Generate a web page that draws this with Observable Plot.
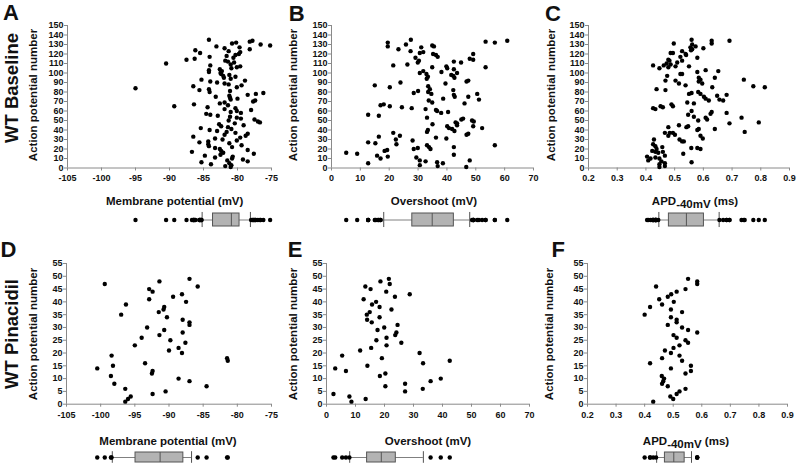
<!DOCTYPE html>
<html><head><meta charset="utf-8">
<script src="https://cdn.jsdelivr.net/npm/d3@7"></script>
<script src="https://cdn.jsdelivr.net/npm/@observablehq/plot@0.6"></script>
<style>
body{margin:0;background:#fff;}
#c{position:relative;width:800px;height:464px;overflow:hidden;background:#fff;font-family:"Liberation Sans",Arial,sans-serif;}
#c svg{position:absolute;overflow:visible;}
.t{position:absolute;white-space:nowrap;font-weight:bold;color:#111;line-height:1;transform:translate(-50%,-50%);}
.r{transform:translate(-50%,-50%) rotate(-90deg);}
.sub{position:relative;top:3px;}
</style></head><body><div id="c"></div>
<script>
// ---------- data (values in AP-number order: index 0 = AP #1) ----------
const baselineMembrane = [-81.0,-81.8,-80.9,-83.9,-81.2,-85.3,-78.5,-81.5,-79.2,-80.8,-83.3,-80.7,-84.8,-82.5,-77.6,-82.1,-86.7,-82.4,-78.5,-82.6,
-83.3,-80.8,-84.2,-79.4,-84.3,-81.2,-85.6,-84.3,-80.1,-82.2,-83.3,-79.6,-86.5,-78.8,-81.9,-78.5,-80.3,-81.6,-83.0,-84.1,
-80.9,-85.4,-81.4,-82.4,-79.1,-82.7,-80.4,-76.7,-77.0,-81.3,-77.5,-79.5,-80.1,-81.1,-82.9,-84.0,-84.6,-79.5,-81.0,-80.1,
-78.0,-81.9,-80.3,-84.4,-89.3,-81.4,-86.4,-82.6,-81.9,-77.7,-77.4,-81.0,-80.0,-81.1,-83.2,-81.2,-78.5,-77.3,-76.2,-84.1,
-81.1,-85.6,-84.2,-95.0,-80.1,-86.5,-79.4,-81.3,-81.9,-83.0,-84.0,-78.9,-85.3,-81.0,-82.0,-80.3,-82.1,-81.2,-82.4,-82.5,
-84.2,-82.3,-84.2,-82.6,-80.9,-80.1,-79.6,-84.0,-81.0,-90.5,-80.5,-81.4,-81.8,-87.5,-86.3,-80.6,-84.1,-81.6,-80.3,-79.8,
-85.5,-79.6,-81.3,-86.2,-78.2,-81.9,-79.7,-83.1,-75.2,-76.6,-80.8,-80.2,-78.2,-77.8,-84.2];

// [AP number, overshoot mV]
const baselineOvershoot = [[16,5.1],[15,8.9],[5,12.7],[27,12.7],[56,12.7],[87,15.0],[26,15.2],[33,16.4],[55,16.4],[66,17.0],
[67,18.1],[13,15.8],[10,17.0],[18,18.4],[19,19.3],[12,19.5],[132,19.5],[128,19.5],[85,20.2],[65,20.2],
[37,21.4],[108,21.4],[30,22.3],[25,22.5],[34,23.7],[125,23.2],[90,23.9],[64,24.4],[130,25.8],[109,26.3],
[135,27.5],[123,27.4],[63,27.8],[29,28.1],[79,28.5],[116,29.1],[81,30.0],[121,30.6],[122,31.8],[111,29.9],
[113,30.3],[127,31.1],[20,28.5],[21,29.9],[11,29.4],[8,30.6],[3,30.6],[100,30.6],[102,31.8],[99,32.9],
[62,32.6],[53,33.1],[40,33.4],[38,33.1],[94,33.0],[96,33.4],[86,33.5],[83,34.1],[80,33.5],[78,34.6],
[71,33.7],[69,34.9],[24,33.1],[22,33.8],[20,34.3],[7,32.6],[46,35.0],[32,36.2],[129,34.9],[128,35.5],
[120,35.2],[119,36.2],[117,36.8],[60,36.6],[6,36.6],[2,36.8],[106,34.9],[61,36.2],[5,38.6],[101,38.1],
[73,38.7],[58,38.0],[89,39.5],[107,39.8],[59,40.4],[105,40.1],[31,39.8],[44,40.1],[42,40.7],[98,41.5],
[97,42.2],[112,42.4],[104,42.4],[95,42.6],[82,42.2],[77,42.4],[75,42.7],[41,41.8],[39,42.6],[48,43.0],
[47,43.5],[45,43.5],[22,42.4],[14,42.4],[100,43.5],[111,44.9],[51,45.0],[52,45.6],[68,46.1],[91,46.8],
[92,47.4],[35,46.8],[36,47.4],[115,47.9],[114,49.1],[120,49.1],[50,48.7],[49,49.3],[44,49.1],[8,47.9],
[1,46.7],[75,47.4],[78,50.5],[72,51.1],[42,52.2],[106,53.4],[133,53.4],[132,56.6],[134,60.9],[24,56.6]];

// [AP number, APD-40mV s]
const baselineAPD = [[134,0.691],[134,0.629],[131,0.629],[135,0.559],[130,0.561],[128,0.573],[127,0.555],[125,0.561],[124,0.557],[126,0.600],
[116,0.579],[131,0.497],[121,0.494],[121,0.486],[123,0.526],[120,0.538],[119,0.540],[117,0.520],[111,0.509],[113,0.526],
[114,0.478],[113,0.482],[110,0.472],[108,0.462],[109,0.486],[107,0.503],[107,0.550],[108,0.425],[105,0.447],[106,0.478],
[99,0.526],[99,0.520],[101,0.579],[103,0.608],[102,0.652],[92,0.503],[89,0.515],[92,0.468],[97,0.474],[87,0.538],
[95,0.584],[93,0.590],[91,0.584],[89,0.596],[95,0.640],[85,0.631],[93,0.741],[86,0.774],[85,0.814],[83,0.437],
[82,0.468],[78,0.550],[79,0.559],[80,0.582],[78,0.590],[75,0.602],[73,0.608],[69,0.544],[68,0.567],[71,0.619],
[76,0.648],[72,0.656],[71,0.669],[77,0.681],[63,0.425],[62,0.433],[65,0.451],[64,0.459],[67,0.489],[65,0.494],
[56,0.547],[60,0.559],[54,0.567],[50,0.582],[53,0.608],[51,0.613],[57,0.625],[59,0.629],[41,0.640],[58,0.681],
[47,0.691],[53,0.733],[48,0.793],[38,0.744],[43,0.478],[37,0.466],[37,0.483],[37,0.494],[34,0.478],[35,0.501],
[45,0.515],[43,0.541],[44,0.547],[30,0.517],[28,0.526],[28,0.532],[40,0.579],[41,0.584],[34,0.590],[31,0.598],
[21,0.558],[21,0.579],[20,0.590],[15,0.530],[6,0.559],[30,0.428],[25,0.425],[23,0.433],[20,0.437],[22,0.457],
[18,0.422],[17,0.433],[16,0.443],[17,0.459],[13,0.466],[12,0.404],[8,0.408],[10,0.416],[11,0.433],[10,0.447],
[7,0.454],[4,0.447],[1,0.447],[5,0.466],[2,0.466]];

const pinacidilMembrane = [-96.4,-96.0,-95.6,-92.4,-90.5,-96.4,-84.5,-98.0,-87.0,-88.6,-98.5,-92.5,-92.4,-100.5,-98.2,-93.5,-81.4,-81.5,-98.4,-88.1,
-90.0,-88.6,-95.0,-87.6,-89.8,-94.0,-91.4,-88.0,-90.7,-93.2,-87.0,-87.0,-88.0,-90.3,-97.0,-91.5,-90.8,-90.7,-96.3,-87.5,
-92.9,-89.4,-88.1,-92.4,-92.9,-85.8,-99.4,-91.4,-87.0];
const pinacidilOvershoot = [8.6,13.5,7.9,2.4,27.1,33.2,20.3,27.1,35.9,39.4,18.4,20.3,6.7,3.0,14.1,33.3,42.5,19.1,5.4,32.1,
11.6,15.4,20.7,25.8,17.2,20.7,23.7,24.1,17.6,19.9,24.5,15.6,14.0,18.3,13.9,14.9,22.4,18.3,15.7,17.1,
12.8,23.6,28.7,20.6,15.2,13.4,21.8,18.6,21.5];
const pinacidilAPD = [0.43,0.50,0.49,0.512,0.522,0.543,0.481,0.461,0.465,0.468,0.46,0.543,0.562,0.492,0.562,0.419,0.531,0.461,0.522,0.492,
0.471,0.501,0.522,0.552,0.543,0.512,0.501,0.584,0.552,0.531,0.481,0.512,0.512,0.492,0.40,0.531,0.492,0.419,0.461,0.502,
0.451,0.481,0.493,0.512,0.543,0.44,0.584,0.584,0.552];

// box statistics: [10th, 25th, median, 75th, 90th percentile]
const boxBaselineMembrane = [-85.2,-83.6,-80.9,-79.7,-78.1];
const boxBaselineOvershoot = [18.1,28.0,34.9,42.4,47.9];
const boxBaselineAPD = [0.445,0.480,0.541,0.602,0.655];
const boxPinacidilMembrane = [-98.3,-94.9,-91.3,-87.9,-86.7];
const boxPinacidilOvershoot = [8.0,14.0,18.9,23.9,33.4];
const boxPinacidilAPD = [0.442,0.471,0.502,0.540,0.564];

// ticks
const ticksMembrane = [-105,-100,-95,-90,-85,-80,-75];
const ticksOvershoot = [0,10,20,30,40,50,60,70];
const ticksAPD = [0.2,0.3,0.4,0.5,0.6,0.7,0.8,0.9];
const ticksAPBaseline = d3.range(0,151,10);
const ticksAPPinacidil = d3.range(0,56,5);

// ---------- drawing ----------
const container = document.getElementById("c");
const FONT = '"Liberation Sans", Arial, sans-serif';
const AXIS = "#8a8a8a";

function place(node, left, top) {
  node.style.left = left + "px";
  node.style.top = top + "px";
  container.appendChild(node);
}

function scatterPanel(o) {
  const L = o.x0 - 45, R = o.x1 + 11;
  const top = o.yTop - 11, bottom = o.yBase + 22;
  const svg = Plot.plot({
    width: R - L, height: bottom - top,
    marginLeft: o.x0 - L, marginRight: R - o.x1,
    marginTop: o.yTop - top, marginBottom: bottom - o.yBase,
    style: {fontFamily: FONT, fontSize: "9px", fontWeight: "bold", background: "transparent", color: "#111", overflow: "visible"},
    x: {domain: [o.xTicks[0], o.xTicks[o.xTicks.length - 1]]},
    y: {domain: [0, o.yTicks[o.yTicks.length - 1]]},
    marks: [
      Plot.ruleX([o.xTicks[0]], {stroke: AXIS}),
      Plot.ruleY([0], {stroke: AXIS}),
      Plot.axisX({ticks: o.xTicks, tickFormat: o.fmt, tickSize: 3, tickPadding: 4, stroke: AXIS, fill: "#111", label: null}),
      Plot.axisY({ticks: o.yTicks, tickFormat: d => String(d), tickSize: 3, tickPadding: 1, stroke: AXIS, fill: "#111", label: null}),
      Plot.dot(o.points, {x: o.xv, y: o.yv, r: 2.2, fill: "#000", stroke: "none"})
    ]
  });
  place(svg, L, top);
}

function boxPanel(o, stats, values, boxTop, boxBottom) {
  const L = o.x0 - 45, R = o.x1 + 11;
  const top = boxTop - 6, bottom = boxBottom + 4;
  const [q10, q25, med, q75, q90] = stats;
  const outliers = values.filter(v => v < q10 || v > q90);
  const svg = Plot.plot({
    width: R - L, height: bottom - top,
    marginLeft: o.x0 - L, marginRight: R - o.x1,
    marginTop: boxTop - top, marginBottom: bottom - boxBottom,
    style: {background: "transparent", overflow: "visible"},
    x: {domain: [o.xTicks[0], o.xTicks[o.xTicks.length - 1]], axis: null},
    y: {domain: [0, 1], axis: null},
    marks: [
      Plot.ruleY([0.5], {x1: q10, x2: q90, stroke: "#808080"}),
      Plot.ruleX([q10, q90], {y1: -0.08, y2: 1.08, stroke: "#505050"}),
      Plot.rect([stats], {x1: d => d[1], x2: d => d[3], y1: 0, y2: 1, fill: "#b3b3b3", stroke: "#555"}),
      Plot.ruleX([med], {y1: 0, y2: 1, stroke: "#555"}),
      Plot.dot(outliers, {x: d => d, y: 0.5, r: 2.2, fill: "#000", stroke: "none"})
    ]
  });
  place(svg, L, top);
}

function text(html, x, y, size, rotate) {
  const d = document.createElement("div");
  d.className = "t" + (rotate ? " r" : "");
  d.style.left = x + "px"; d.style.top = y + "px";
  d.style.fontSize = size + "px";
  d.innerHTML = html;
  container.appendChild(d);
}

const fmtInt = d => String(d);
const fmt1 = d => d.toFixed(1);
const byIndexY = (d, i) => i + 1;

const panels = {
  A: {x0: 67, x1: 271, xTicks: ticksMembrane, fmt: fmtInt, yTop: 24.5, yBase: 167, yTicks: ticksAPBaseline,
      points: baselineMembrane, xv: d => d, yv: byIndexY},
  B: {x0: 331, x1: 533, xTicks: ticksOvershoot, fmt: fmtInt, yTop: 24.5, yBase: 167, yTicks: ticksAPBaseline,
      points: baselineOvershoot, xv: d => d[1], yv: d => d[0]},
  C: {x0: 588, x1: 789, xTicks: ticksAPD, fmt: fmt1, yTop: 24.5, yBase: 167, yTicks: ticksAPBaseline,
      points: baselineAPD, xv: d => d[1], yv: d => d[0]},
  D: {x0: 66, x1: 271, xTicks: ticksMembrane, fmt: fmtInt, yTop: 263.3, yBase: 404, yTicks: ticksAPPinacidil,
      points: pinacidilMembrane, xv: d => d, yv: byIndexY},
  E: {x0: 326, x1: 529, xTicks: ticksOvershoot, fmt: fmtInt, yTop: 263.3, yBase: 404, yTicks: ticksAPPinacidil,
      points: pinacidilOvershoot, xv: d => d, yv: byIndexY},
  F: {x0: 587, x1: 787, xTicks: ticksAPD, fmt: fmt1, yTop: 263.3, yBase: 404, yTicks: ticksAPPinacidil,
      points: pinacidilAPD, xv: d => d, yv: byIndexY}
};

for (const k of Object.keys(panels)) scatterPanel(panels[k]);

boxPanel(panels.A, boxBaselineMembrane, baselineMembrane, 213, 226);
boxPanel(panels.B, boxBaselineOvershoot, baselineOvershoot.map(d => d[1]), 213, 226);
boxPanel(panels.C, boxBaselineAPD, baselineAPD.map(d => d[1]), 213, 226);
boxPanel(panels.D, boxPinacidilMembrane, pinacidilMembrane, 451.7, 461.7);
boxPanel(panels.E, boxPinacidilOvershoot, pinacidilOvershoot, 451.7, 461.7);
boxPanel(panels.F, boxPinacidilAPD, pinacidilAPD, 451.7, 461.7);

// panel letters
text("A", 11, 12.5, 22); text("B", 296.7, 13.7, 22); text("C", 553, 13.7, 22);
text("D", 8.5, 250, 22); text("E", 295, 250, 22); text("F", 558.3, 250, 22);
// row labels
text("WT Baseline", 12, 88, 18.5, true);
text("WT Pinacidil", 12, 334, 18.5, true);
// y titles
const yTitle = "Action potential number";
text(yTitle, 34, 95, 11.5, true); text(yTitle, 294, 95, 11.5, true); text(yTitle, 552, 95, 11.5, true);
text(yTitle, 33.5, 334, 11.5, true); text(yTitle, 294, 334, 11.5, true); text(yTitle, 550, 334, 11.5, true);
// x titles
const apdTitle = 'APD<span class="sub">-40mV</span> (ms)';
text("Membrane potential (mV)", 174.7, 202, 11.5); text("Overshoot (mV)", 434, 202, 11.5); text(apdTitle, 695, 202, 11.5);
text("Membrane potential (mV)", 168, 441.7, 11.5); text("Overshoot (mV)", 428, 441.7, 11.5); text(apdTitle, 686, 441.7, 11.5);
</script>
</body></html>
